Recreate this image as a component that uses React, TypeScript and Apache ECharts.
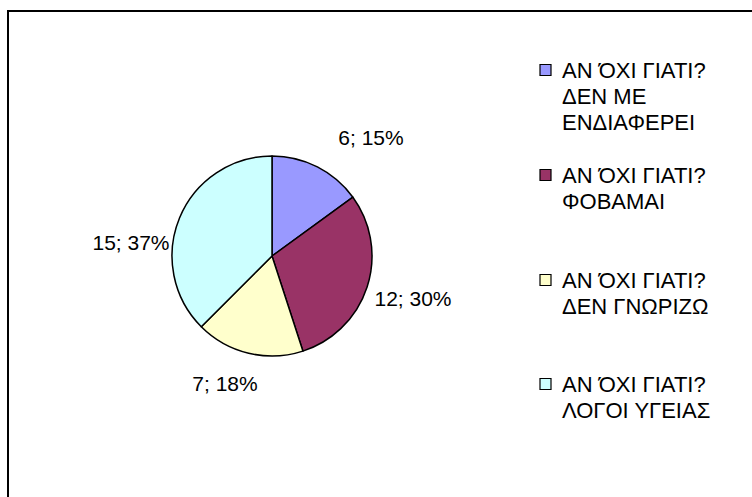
import React, { useEffect, useRef } from "react";
import * as echarts from "echarts";

const CATEGORIES = [
  "ΑΝ ΌΧΙ ΓΙΑΤΙ?\nΔΕΝ ΜΕ\nΕΝΔΙΑΦΕΡΕΙ",
  "ΑΝ ΌΧΙ ΓΙΑΤΙ?\nΦΟΒΑΜΑΙ",
  "ΑΝ ΌΧΙ ΓΙΑΤΙ?\nΔΕΝ ΓΝΩΡΙΖΩ",
  "ΑΝ ΌΧΙ ΓΙΑΤΙ?\nΛΟΓΟΙ ΥΓΕΙΑΣ",
];
const VALUES = [6, 12, 7, 15];
const PERCENT_LABELS = [15, 30, 18, 37];
const COLORS = ["#9999FF", "#993366", "#FFFFCC", "#CCFFFF"];

// layout (label centres, legend rows)
const LABEL_X = [371, 413, 225, 131];
const LABEL_Y = [137, 298, 383, 242];
const LEGEND_TOP = [57, 162, 267, 371];

const FONT = "'Liberation Sans', Arial, sans-serif";

export default function App() {
  const ref = useRef<HTMLDivElement>(null);
  useEffect(() => {
    if (!ref.current) return;
    const chart = echarts.init(ref.current, null, { renderer: "svg" });
    const legendEls: any[] = [];
    CATEGORIES.forEach((name, i) => {
      legendEls.push({
        type: "rect",
        shape: { x: 540, y: LEGEND_TOP[i] + 7.5, width: 11, height: 11 },
        style: { fill: COLORS[i], stroke: "#000", lineWidth: 1.2 },
      });
      legendEls.push({
        type: "text",
        x: 562,
        y: LEGEND_TOP[i],
        style: {
          text: name,
          fontSize: 22,
          lineHeight: 26,
          fontFamily: FONT,
          fill: "#000",
          verticalAlign: "top",
          align: "left",
        },
      });
    });
    chart.setOption({
      animation: false,
      backgroundColor: "#fff",
      graphic: [
        {
          type: "rect",
          shape: { x: 8, y: 11, width: 800, height: 600 },
          style: { fill: "none", stroke: "#000", lineWidth: 2 },
          z: 10,
        },
        ...legendEls,
      ],
      series: [
        {
          type: "pie",
          center: [272, 256],
          radius: 100,
          startAngle: 90,
          clockwise: true,
          data: VALUES.map((v, i) => ({
            value: v,
            name: CATEGORIES[i],
            itemStyle: { color: COLORS[i] },
          })),
          itemStyle: { borderColor: "#000", borderWidth: 1.5 },
          label: {
            show: true,
            position: "outside",
            formatter: (p: any) => `${p.value}; ${PERCENT_LABELS[p.dataIndex]}%`,
            fontSize: 21,
            fontFamily: FONT,
            color: "#000",
          },
          labelLine: { show: false },
          labelLayout: (p: any) => ({
            x: LABEL_X[p.dataIndex],
            y: LABEL_Y[p.dataIndex],
            align: "center",
            verticalAlign: "middle",
          }),
          emphasis: { disabled: true },
        },
      ],
    });
    return () => chart.dispose();
  }, []);
  return (
    <div
      ref={ref}
      style={{ position: "absolute", left: 0, top: 0, width: 752, height: 497 }}
    />
  );
}
